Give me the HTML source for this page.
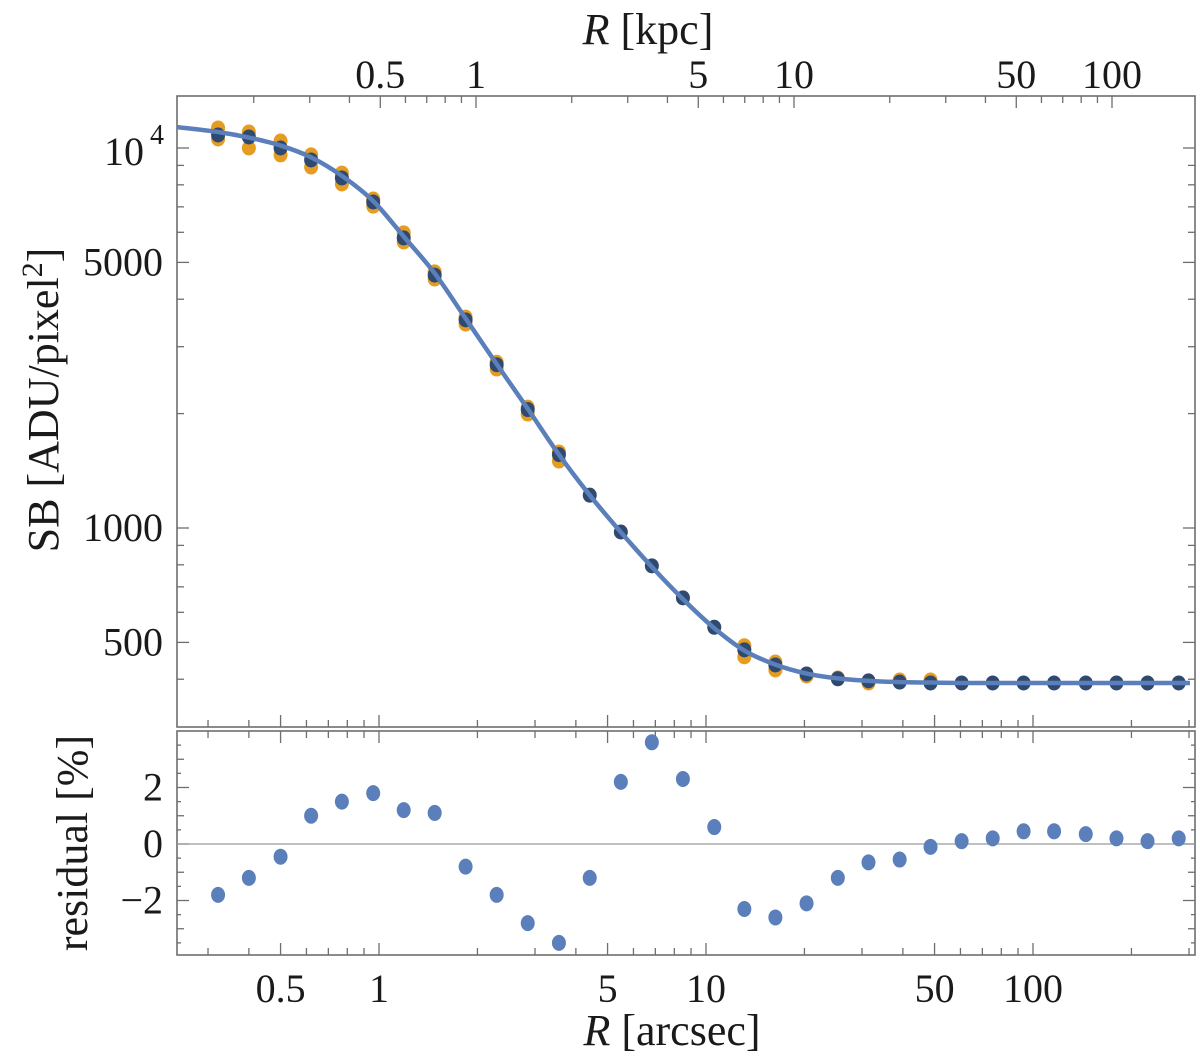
<!DOCTYPE html>
<html><head><meta charset="utf-8"><style>
html,body{margin:0;padding:0;background:#fff;}
svg text{font-family:"Liberation Serif","DejaVu Serif",serif;fill:#1a1a1a;}
</style></head><body>
<svg id="chart" width="1200" height="1057" viewBox="0 0 1200 1057" xmlns="http://www.w3.org/2000/svg">
<g id="main"></g>
<g id="resid"></g>
</svg>
<script>
// ---- data ----
const radii = [0.322,0.40,0.50,0.62,0.77,0.96,1.19,1.48,1.84,2.29,2.85,3.55,4.41,5.49,6.83,8.5,10.6,13.1,16.3,20.3,25.3,31.4,39.1,48.6,60.5,75.3,93.6,116,145,180,224,279];
const sbData = [10820,10690,10000,9300,8340,7210,5800,4630,3530,2690,2050,1560,1220,976,795,655,548,478,436,413,401,396,393,391,391,391,391,391,391,391,391,391];
const sbOrangeHi = [11290,11020,10430,9590,8590,7340,5980,4720,3590,2730,2080,1585,null,null,null,null,null,490,444,408,403,391,398,398,null,null,null,null,null,null,null,null];
const sbOrangeLo = [10560,10000,9590,8910,8040,7030,5660,4520,3440,2620,1995,1500,null,null,null,null,null,458,423,null,null,null,null,null,null,null,null,null,null,null,null,null];
const modelR = [0.241,0.322,0.40,0.50,0.62,0.77,0.96,1.19,1.48,1.84,2.29,2.85,3.55,4.41,5.49,6.83,8.5,10.6,13.1,16.3,20.3,25.3,31.4,39.1,48.6,60.5,93.6,180,302];
const modelSB = [11350,11020,10650,10150,9450,8450,7250,5850,4680,3560,2700,2060,1560,1220,975,790,650,545,476,437,414,402,396,393,392,391,391,391,391];
const residual = [-1.8,-1.2,-0.45,1.0,1.5,1.8,1.2,1.1,-0.8,-1.8,-2.8,-3.5,-1.2,2.2,3.6,2.3,0.6,-2.3,-2.6,-2.1,-1.2,-0.65,-0.55,-0.1,0.1,0.2,0.45,0.45,0.35,0.2,0.1,0.2];
const xTickArc = [0.5,1,5,10,50,100];
const xTickArcLabels = ["0.5","1","5","10","50","100"];
const xTickKpc = [0.5,1,5,10,50,100];
const xTickKpcLabels = ["0.5","1","5","10","50","100"];
const yTickSB = [500,1000,5000];
const yTickSBLabels = ["500","1000","5000"];
const yTickRes = [-2,0,2];
const yTickResLabels = ["\u22122","0","2"];

// ---- geometry ----
const L=177, R=1195, T=96, B=727, RT=731, RB=955;
const xA = r => 379 + 327*Math.log10(r);
const xK = k => 476 + 318*Math.log10(k);
const yS = v => 528 - 380*Math.log10(v/1000);
const yR = p => 844 - 28.25*p;
const NS="http://www.w3.org/2000/svg";
const main=document.getElementById('main'), resid=document.getElementById('resid');
function mk(tag,attrs,parent){const e=document.createElementNS(NS,tag);for(const k in attrs)e.setAttribute(k,attrs[k]);parent.appendChild(e);return e;}
const ax='#6e6e6e';

let f1=mk('rect',{x:L,y:T,width:R-L,height:B-T,fill:'none',stroke:ax,'stroke-width':1.6},main);


let f2=mk('rect',{x:L,y:RT,width:R-L,height:RB-RT,fill:'none',stroke:ax,'stroke-width':1.6},resid);



function tickLine(x1,y1,x2,y2,parent,name){const t=mk('line',{x1,y1,x2,y2,stroke:ax,'stroke-width':1.3},parent);}

for(let d=-1;d<=2;d++){for(let m=1;m<=9;m++){const r=m*Math.pow(10,d);const x=xA(r);if(x<=L+1||x>=R-1)continue;const big=(m===1||m===5);const len=big?12:7;
 tickLine(x,B,x,B-len,main,'x-tick');
 tickLine(x,RT,x,RT+len,resid,'x-tick');
 tickLine(x,RB,x,RB-len,resid,'x-tick');}}
for(let d=-1;d<=2;d++){for(let m=1;m<=9;m++){const k=m*Math.pow(10,d);const x=xK(k);if(x<=L+1||x>=R-1)continue;const big=(m===1||m===5);tickLine(x,T,x,T+(big?12:7),main,'top-x-tick');}}
for(let d=2;d<=4;d++){for(let m=1;m<=9;m++){const v=m*Math.pow(10,d);const y=yS(v);if(y<=T+1||y>=B-1)continue;const big=(m===1||m===5);const len=big?12:7;tickLine(L,y,L+len,y,main,'y-tick');tickLine(R,y,R-len,y,main,'y-tick');}}
for(let p=-3.5;p<=4;p+=0.5){const y=yR(p);if(y<=RT+1||y>=RB-1)continue;const big=Number.isInteger(p/2)&&Number.isInteger(p);const len=big?12:(Number.isInteger(p)?7:4);tickLine(L,y,L+len,y,resid,'res-y-tick');tickLine(R,y,R-len,y,resid,'res-y-tick');}

function txt(s,x,y,size,anchor,parent,name){const t=mk('text',{x,y,'font-size':size,'text-anchor':anchor},parent);t.textContent=s;return t;}
xTickArc.forEach((r,i)=>txt(xTickArcLabels[i],xA(r),1002,40,'middle',resid,'x-tick-label'));
xTickKpc.forEach((k,i)=>txt(xTickKpcLabels[i],xK(k),88,40,'middle',main,'top-tick-label'));
yTickSB.forEach((v,i)=>txt(yTickSBLabels[i],163,yS(v)+13,40,'end',main,'y-tick-label'));
let t4=txt('10',144,yS(10000)+17,40,'end',main,'y-tick-label-10000');
let s4=txt('4',164,yS(10000)-4,28,'end',main,'y-tick-exponent');
yTickRes.forEach((p,i)=>txt(yTickResLabels[i],163,yR(p)+13,40,'end',resid,'res-y-tick-label'));

let z=mk('line',{x1:L,x2:R,y1:yR(0),y2:yR(0),stroke:'#9a9a9a','stroke-width':1.3},resid);



const orange='#e59c22', dark='#2f4a6e', blue='#5a7fba';
radii.forEach((r,i)=>{[sbOrangeHi[i],sbOrangeLo[i]].forEach(v=>{if(v==null)return;const c=mk('ellipse',{cx:xA(r),cy:yS(v),rx:7,ry:7.5,fill:orange},main);});});
radii.forEach((r,i)=>{const c=mk('ellipse',{cx:xA(r),cy:yS(sbData[i]),rx:7,ry:7.5,fill:dark},main);});
const pts=modelR.map((r,i)=>[Math.max(L,Math.min(R,xA(r))),yS(modelSB[i])]);
let d='M'+pts[0][0]+','+pts[0][1];
for(let i=0;i<pts.length-1;i++){const p0=pts[Math.max(0,i-1)],p1=pts[i],p2=pts[i+1],p3=pts[Math.min(pts.length-1,i+2)];
 const c1=[p1[0]+(p2[0]-p0[0])/6,p1[1]+(p2[1]-p0[1])/6],c2=[p2[0]-(p3[0]-p1[0])/6,p2[1]-(p3[1]-p1[1])/6];
 d+=` C${c1[0]},${c1[1]} ${c2[0]},${c2[1]} ${p2[0]},${p2[1]}`;}
const cl=mk('clipPath',{id:'clipm'},main);mk('rect',{x:L,y:T,width:R-L,height:B-T},cl);
let mc=mk('path',{d,fill:'none',stroke:blue,'stroke-width':4.5,'clip-path':'url(#clipm)'},main);


radii.forEach((r,i)=>{const c=mk('ellipse',{cx:xA(r),cy:yR(residual[i]),rx:7,ry:8,fill:blue},resid);});

let xt=mk('text',{x:672,y:1045,'font-size':44,'text-anchor':'middle'},resid);
xt.innerHTML='<tspan font-style="italic">R</tspan> [arcsec]';


let kt=mk('text',{x:648,y:44,'font-size':44,'text-anchor':'middle'},main);
kt.innerHTML='<tspan font-style="italic">R</tspan> [kpc]';


let yt=mk('text',{x:0,y:0,'font-size':44,'text-anchor':'middle',transform:'translate(58,400) rotate(-90)'},main);
yt.innerHTML='SB [ADU/pixel<tspan dy="-16" font-size="30">2</tspan><tspan dy="16">]</tspan>';


let rt=mk('text',{x:0,y:0,'font-size':44,'text-anchor':'middle',transform:'translate(87,843) rotate(-90)'},resid);
rt.textContent='residual [%]';


</script>
</body></html>
